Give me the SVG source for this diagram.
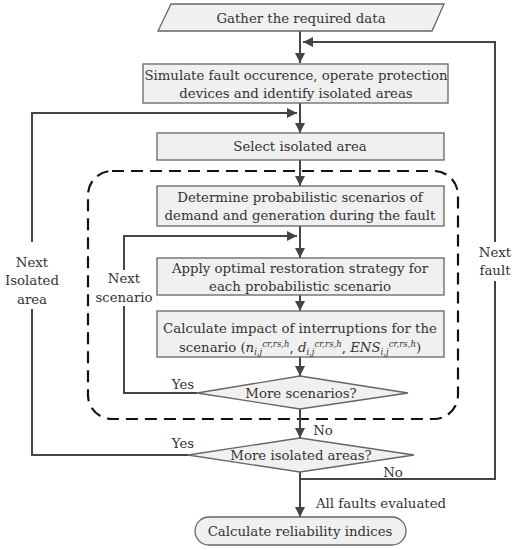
<svg xmlns="http://www.w3.org/2000/svg" width="516" height="550" viewBox="0 0 516 550">
<defs>
<marker id="ah" viewBox="0 0 10 10" refX="10" refY="5" markerWidth="10" markerHeight="10" markerUnits="userSpaceOnUse" orient="auto">
<path d="M0,0 L10,5 L0,10 z" fill="#444"/>
</marker>
<style>
.box{fill:#f0f0f0;stroke:#666;stroke-width:1.3}
.t{font-size:13.3px;fill:#333;text-anchor:middle}
.c{fill:none;stroke:#444;stroke-width:2}
.a{fill:none;stroke:#444;stroke-width:2;marker-end:url(#ah)}
.i{font-style:italic}
.s{font-size:8.5px}
</style>
</defs>
<rect width="516" height="550" fill="#fff"/>
<rect x="88" y="171" width="370" height="248" rx="24" fill="none" stroke="#111" stroke-width="2.2" stroke-dasharray="12,7"/>
<g id="connectors">
<path class="a" d="M300,31 V63"/>
<path class="a" d="M300,103 V133"/>
<path class="a" d="M300,160 V186"/>
<path class="a" d="M300,226 V258"/>
<path class="a" d="M300,295 V311"/>
<path class="a" d="M300,357 V376"/>
<path class="a" d="M300,409 V438"/>
<path class="a" d="M300,472 V517"/>
<path class="a" d="M495,242 V42 H303"/>
<path class="c" d="M300,479 H495 V281"/>
<path class="a" d="M32,242 V113 H297"/>
<path class="c" d="M188,455 H32 V309"/>
<path class="a" d="M124,270 V236 H297"/>
<path class="c" d="M197,393 H124 V306"/>
</g>
<g font-family="'DejaVu Serif', serif">
<g id="n1"><polygon class="box" points="171,4 444,4 432,31 158,31"/><text class="t" x="301" y="23">Gather the required data</text></g>
<g id="n2"><rect class="box" x="143" y="64" width="305" height="39"/><text class="t" x="296" y="80">Simulate fault occurence, operate protection</text><text class="t" x="296" y="98">devices and identify isolated areas</text></g>
<g id="n3"><rect class="box" x="157" y="133" width="287" height="27"/><text class="t" x="300" y="151">Select isolated area</text></g>
<g id="n4"><rect class="box" x="157" y="186" width="287" height="40"/><text class="t" x="300" y="202">Determine probabilistic scenarios of</text><text class="t" x="300" y="220">demand and generation during the fault</text></g>
<g id="n5"><rect class="box" x="157" y="258" width="287" height="37"/><text class="t" x="300" y="273">Apply optimal restoration strategy for</text><text class="t" x="300" y="291">each probabilistic scenario</text></g>
<g id="n6"><rect class="box" x="157" y="311" width="287" height="46"/><text class="t" x="300" y="333">Calculate impact of interruptions for the</text><text class="t" x="300" y="352">scenario (<tspan class="i">n</tspan><tspan class="i s" dy="3">i,j</tspan><tspan class="i s" dy="-8">cr,rs,h</tspan><tspan dy="5">, </tspan><tspan class="i">d</tspan><tspan class="i s" dy="3">i,j</tspan><tspan class="i s" dy="-8">cr,rs,h</tspan><tspan dy="5">, </tspan><tspan class="i">ENS</tspan><tspan class="i s" dy="3">i,j</tspan><tspan class="i s" dy="-8">cr,rs,h</tspan><tspan dy="5">)</tspan></text></g>
<g id="n7"><polygon class="box" points="300,376 408,393 300,409 197,393"/><text class="t" x="301" y="398">More scenarios?</text></g>
<g id="n8"><polygon class="box" points="300,438 414,455 300,472 188,455"/><text class="t" x="301" y="460">More isolated areas?</text></g>
<g id="n9"><rect class="box" x="195" y="517" width="211" height="28" rx="14"/><text class="t" x="300" y="536">Calculate reliability indices</text></g>
<g id="labels">
<text class="t" x="32" y="267">Next</text><text class="t" x="32" y="285">Isolated</text><text class="t" x="32" y="304">area</text>
<text class="t" x="124" y="283">Next</text><text class="t" x="124" y="302">scenario</text>
<text class="t" x="495" y="257">Next</text><text class="t" x="495" y="275">fault</text>
<text class="t" x="183" y="389">Yes</text>
<text class="t" x="183" y="448">Yes</text>
<text class="t" x="323" y="435">No</text>
<text class="t" x="393" y="477">No</text>
<text class="t" x="381" y="508">All faults evaluated</text>
</g>
</g>
</svg>
